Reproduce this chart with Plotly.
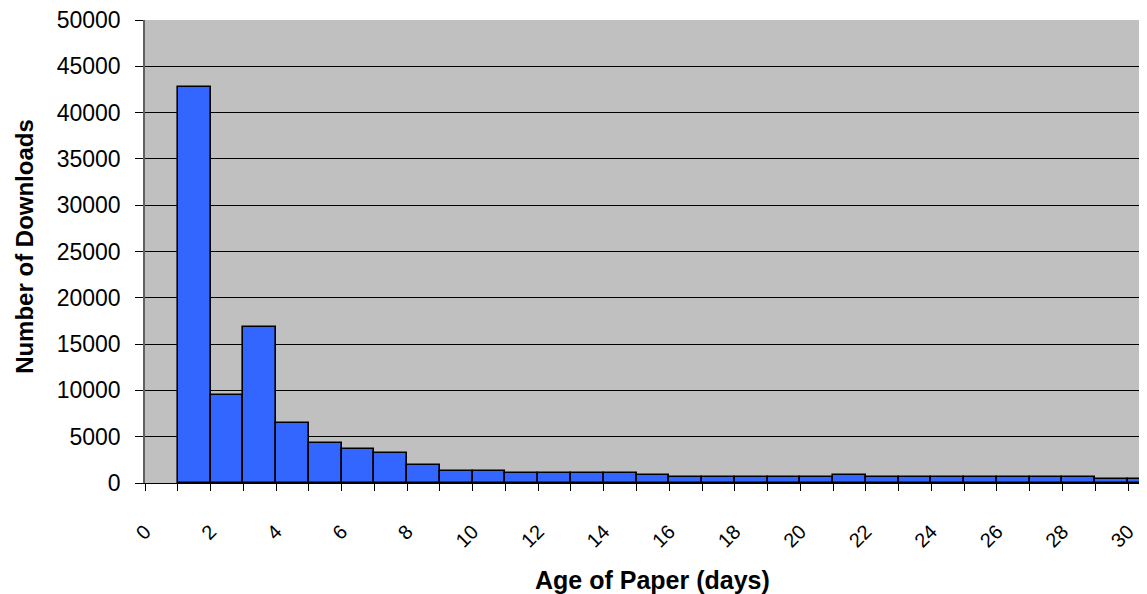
import plotly.graph_objects as go

days = list(range(1, 31))
downloads = [42800, 9450, 16800, 6450, 4300, 3650, 3250, 1950, 1250, 1250,
             1080, 1080, 1080, 1080, 820, 620, 620, 620, 620, 620,
             860, 620, 620, 620, 620, 620, 620, 620, 430, 430]
x_title = "Age of Paper (days)"
y_title = "Number of Downloads"

font_fam = "Arial, Liberation Sans, sans-serif"

fig = go.Figure()
fig.add_trace(go.Bar(
    x=[d + 0.5 for d in days],
    y=downloads,
    width=1,
    marker=dict(color="#3366FF", line=dict(color="black", width=1.6)),
))

fig.update_layout(
    width=1139, height=586,
    margin=dict(l=137, r=0, t=12, b=111),
    paper_bgcolor="white",
    plot_bgcolor="#C0C0C0",
    showlegend=False,
    bargap=0,
    font=dict(family=font_fam, color="black"),
    annotations=[
        dict(text="<b>" + x_title + "</b>", xref="paper", yref="paper",
             x=0.5, y=0, xshift=6, yshift=-97, xanchor="center", yanchor="middle",
             showarrow=False, font=dict(size=25, family=font_fam)),
        dict(text="<b>" + y_title + "</b>", xref="paper", yref="paper",
             x=0, y=0.51, xshift=-120, xanchor="center", yanchor="middle",
             textangle=-90, showarrow=False, font=dict(size=24, family=font_fam)),
    ],
)
fig.update_xaxes(
    range=[0, 30.58],
    automargin=False,
    ticklabeloverflow="allow",
    tickmode="linear", tick0=0, dtick=2,
    ticks="outside", ticklen=7, tickcolor="black", tickwidth=1,
    minor=dict(tickmode="linear", tick0=0, dtick=1, ticks="outside", ticklen=7, tickcolor="black", tickwidth=1),
    tickangle=-45,
    tickfont=dict(size=20, family=font_fam),
    ticklabelstandoff=21,
    showgrid=False, zeroline=False,
    showline=True, linecolor="black", linewidth=1,
)
fig.update_yaxes(
    range=[0, 50000],
    automargin=False,
    ticklabeloverflow="allow",
    tickmode="linear", tick0=0, dtick=5000, tickformat="d",
    ticks="outside", ticklen=8, tickcolor="black", tickwidth=1,
    tickfont=dict(size=23, family=font_fam),
    ticklabelstandoff=10,
    showgrid=True, gridcolor="black", gridwidth=1,
    zeroline=False,
    showline=True, linecolor="#606060", linewidth=1.5,
)

fig.write_html("out.html")
